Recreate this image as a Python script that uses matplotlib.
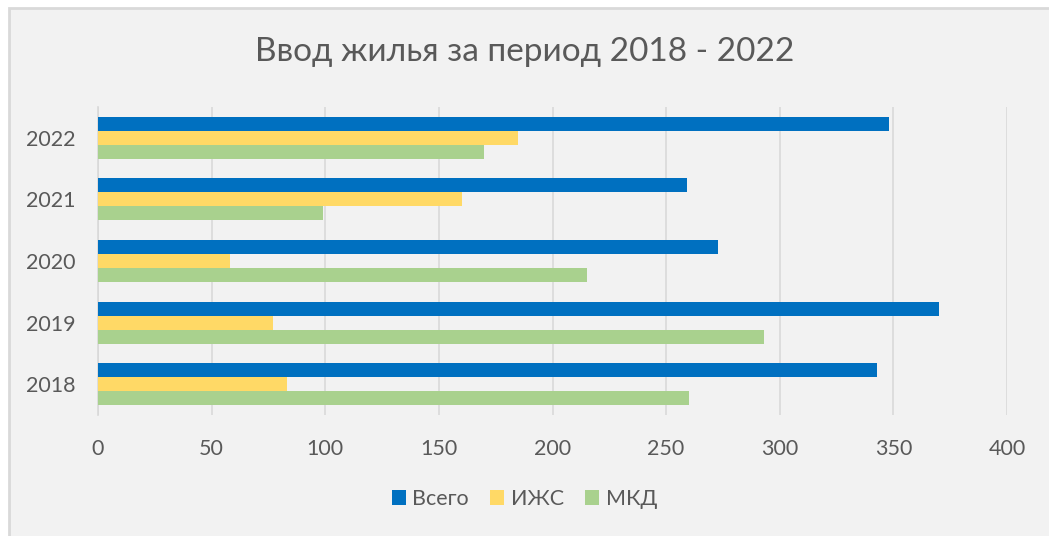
import matplotlib
matplotlib.use('Agg')
import matplotlib.pyplot as plt
from matplotlib.patches import Rectangle
import numpy as np

plt.rcParams['font.family'] = ['Lato', 'DejaVu Sans']

years = ['2018', '2019', '2020', '2021', '2022']
vsego = [343, 370, 273, 259, 348]
izhs = [83, 77, 58, 160, 185]
mkd = [260, 293, 215, 99, 170]

series_names = ['Всего', 'ИЖС', 'МКД']
colors = ['#0070C0', '#FFD966', '#A9D18E']
text_color = '#595959'

fig = plt.figure(figsize=(10.49, 5.36), dpi=100)
fig.patch.set_facecolor('white')
# chart area background with grey border (cut at right/bottom like the screenshot)
fig.patches.append(Rectangle((9 / 1049, -0.1), 1.2, 1 - 8 / 536 + 0.1,
                             transform=fig.transFigure, facecolor='#F2F2F2',
                             edgecolor='#D9D9D9', linewidth=2, zorder=-10))

ax = fig.add_axes([98 / 1049, 1 - 415 / 536, (1007 - 98) / 1049, (415 - 107) / 536])
ax.set_facecolor('none')

y = np.arange(len(years))
h = 0.227
ax.barh(y + h, vsego, height=h, color=colors[0], label=series_names[0], zorder=3)
ax.barh(y, izhs, height=h, color=colors[1], label=series_names[1], zorder=3)
ax.barh(y - h, mkd, height=h, color=colors[2], label=series_names[2], zorder=3)

ax.set_xlim(0, 400)
ax.set_ylim(-0.5, 4.5)
ax.set_xticks(np.arange(0, 401, 50))
ax.set_yticks(y)
ax.set_yticklabels(years)
ax.grid(axis='x', color='#D9D9D9', linewidth=1.2, zorder=0)
for s in ['top', 'right', 'bottom']:
    ax.spines[s].set_visible(False)
ax.spines['left'].set_color('#D9D9D9')
ax.spines['left'].set_linewidth(1.2)
ax.tick_params(length=0, labelsize=15.5, labelcolor=text_color)
ax.tick_params(axis='x', pad=17)
ax.tick_params(axis='y', pad=16)

fig.text(0.5, 1 - 52 / 536, 'Ввод жилья за период 2018 - 2022', ha='center',
         va='center', fontsize=24, color=text_color)

fig.legend(loc='center', bbox_to_anchor=(0.5, 1 - 499 / 536), ncol=3,
           frameon=False, fontsize=15.5, labelcolor=text_color,
           handlelength=0.65, handleheight=0.65, handletextpad=0.3,
           columnspacing=1.0)

fig.savefig('out.png', dpi=100)
